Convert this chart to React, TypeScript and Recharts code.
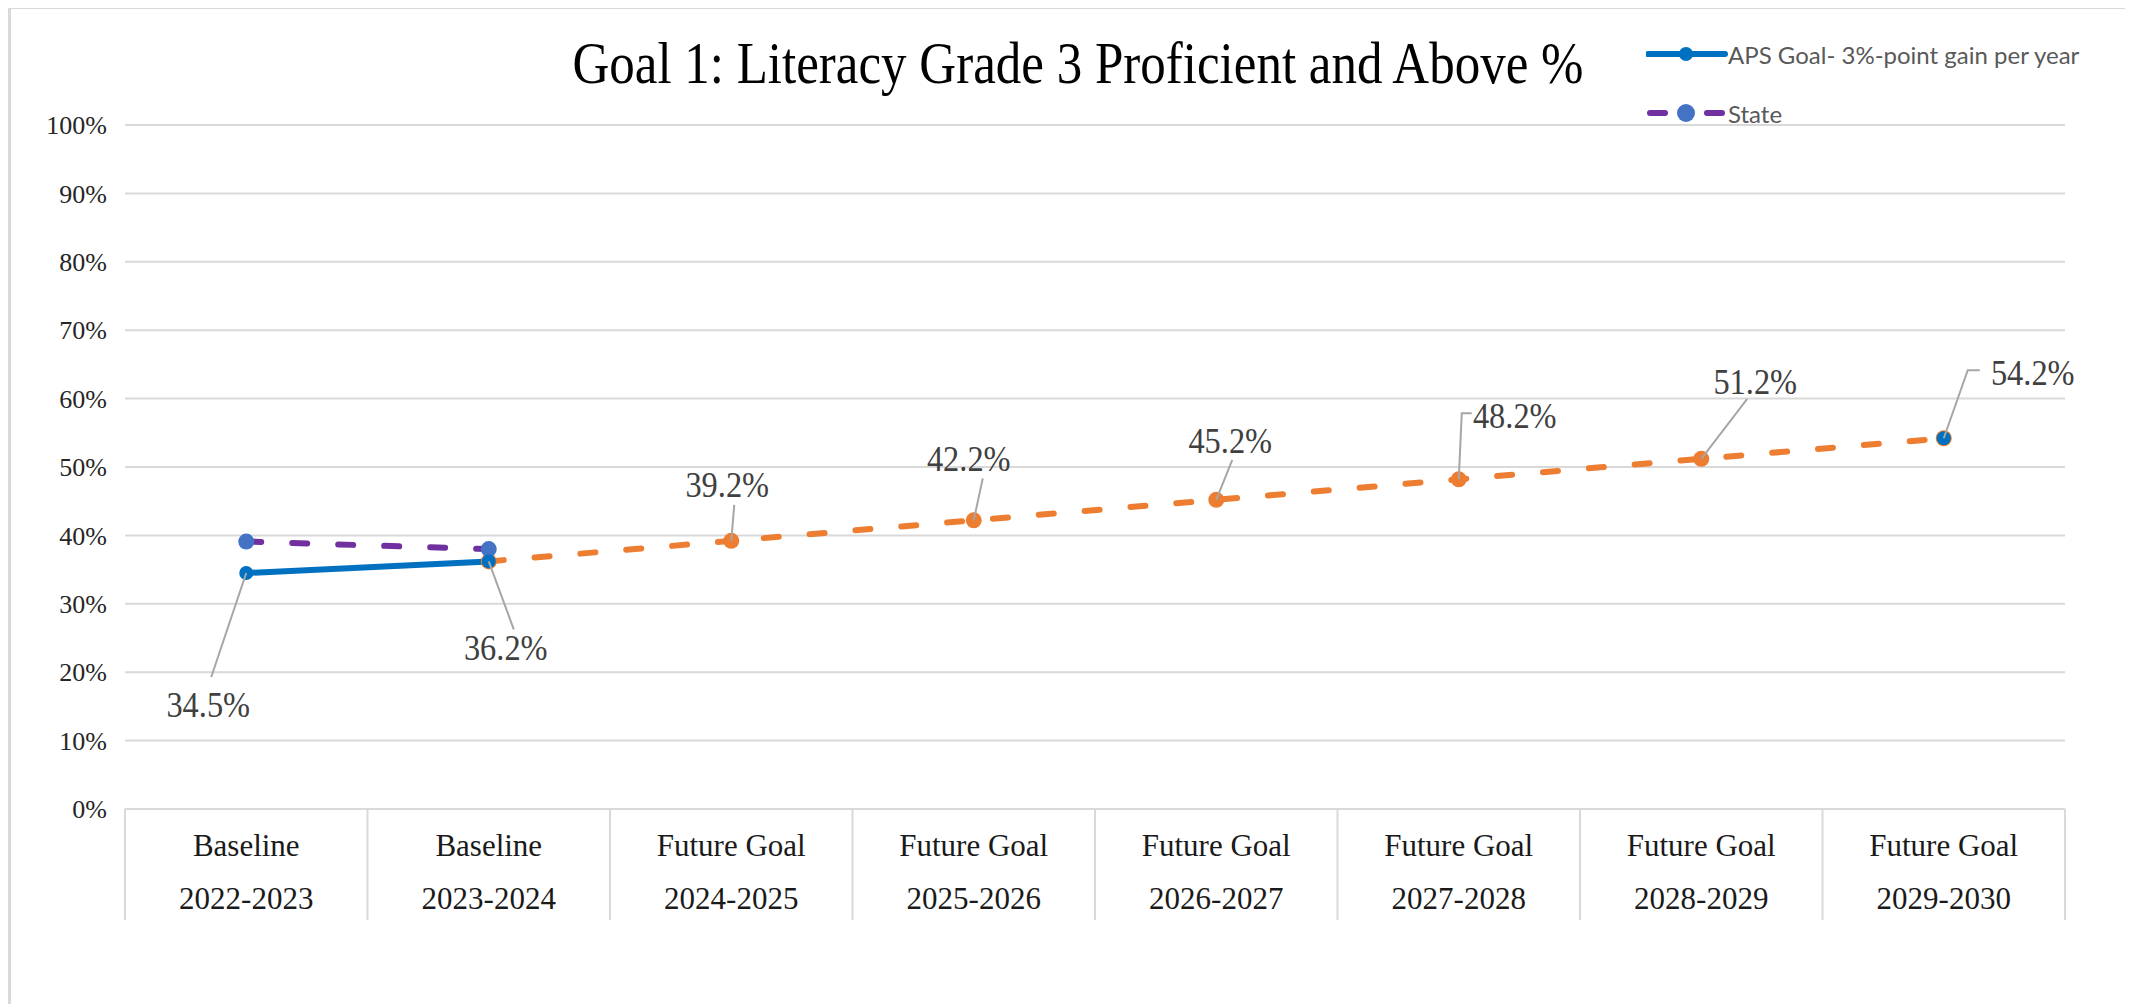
import {
  CartesianGrid,
  LabelList,
  Line,
  LineChart,
  XAxis,
  YAxis,
} from "recharts";

// ---- data ----
const phases = [
  "Baseline",
  "Baseline",
  "Future Goal",
  "Future Goal",
  "Future Goal",
  "Future Goal",
  "Future Goal",
  "Future Goal",
];
const years = [
  "2022-2023",
  "2023-2024",
  "2024-2025",
  "2025-2026",
  "2026-2027",
  "2027-2028",
  "2028-2029",
  "2029-2030",
];
const apsValues = [34.5, 36.2, null, null, null, null, null, 54.2];
const goalValues = [null, 36.2, 39.2, 42.2, 45.2, 48.2, 51.2, 54.2];
const stateValues = [39.1, 38.0, null, null, null, null, null, null];
const yTicks = [0, 10, 20, 30, 40, 50, 60, 70, 80, 90, 100];

const APS_NAME = "APS Goal- 3%-point gain per year";
const STATE_NAME = "State";
const TITLE = "Goal 1: Literacy Grade 3 Proficient and Above %";

const data = years.map((y, i) => ({
  key: `${phases[i]}|${y}`,
  phase: phases[i],
  year: y,
  aps: apsValues[i],
  goal: goalValues[i],
  state: stateValues[i],
}));

// ---- layout / style ----
const W = 2125;
const H = 998;
const PLOT_LEFT = 117;
const PLOT_RIGHT = 2057;
const PLOT_TOP = 117;
const PLOT_BOTTOM = 801;
const X_AXIS_H = 120;
const Y_AXIS_W = 100;
const BAND = (PLOT_RIGHT - PLOT_LEFT) / years.length;

const SERIF = '"Liberation Serif", "Times New Roman", serif';
const SANS = 'Lato, "Open Sans", sans-serif';
const GRID = "#D9D9D9";
const BLUE = "#0070C0";
const ORANGE = "#ED7D31";
const PURPLE = "#7030A0";
const STATE_DOT = "#4472C4";
const LABEL_INK = "#404040";
const LEADER = "#A6A6A6";

// label centre offset from its point, plus leader-line path (relative to point)
const labelPos: Record<number, { dx: number; dy: number; leader: [number, number][] }> = {
  0: { dx: -38, dy: 132, leader: [[0, 0], [-35, 104]] },
  1: { dx: 17, dy: 86, leader: [[0, 0], [25, 68]] },
  2: { dx: -4, dy: -56, leader: [[0, 0], [3, -36]] },
  3: { dx: -5, dy: -62, leader: [[0, 0], [9, -42]] },
  4: { dx: 14, dy: -59, leader: [[0, 0], [16, -40]] },
  5: { dx: 56, dy: -64, leader: [[0, 0], [3, -66], [13, -66]] },
  6: { dx: 54, dy: -77, leader: [[0, 0], [46, -60]] },
  7: { dx: 89, dy: -66, leader: [[0, 0], [24, -68], [36, -68]] },
};

function makeLabel(indices: number[]) {
  return (p: any) => {
    const i = p.index as number;
    if (!indices.includes(i) || p.value == null) return null;
    const pos = labelPos[i];
    const x = Number(p.x);
    const y = Number(p.y);
    const d = pos.leader.map(([lx, ly], k) => `${k ? "L" : "M"}${x + lx},${y + ly}`).join(" ");
    return (
      <g>
        <path d={d} stroke={LEADER} strokeWidth={2} fill="none" />
        <text
          transform={`translate(${x + pos.dx},${y + pos.dy}) scale(0.9,1)`}
          dy="0.34em"
          textAnchor="middle"
          fontFamily={SERIF}
          fontSize={36}
          fill={LABEL_INK}
        >
          {`${Number(p.value).toFixed(1)}%`}
        </text>
      </g>
    );
  };
}

function CategoryTick(props: any) {
  const { x, index } = props;
  const top = PLOT_BOTTOM;
  const bottom = PLOT_BOTTOM + 111;
  const left = x - BAND / 2;
  const right = x + BAND / 2;
  return (
    <g>
      <line x1={left} y1={top} x2={left} y2={bottom} stroke={GRID} strokeWidth={2} />
      {index === years.length - 1 && (
        <line x1={right} y1={top} x2={right} y2={bottom} stroke={GRID} strokeWidth={2} />
      )}
      <text x={x} y={top + 47} textAnchor="middle" fontFamily={SERIF} fontSize={31} fill="#1a1a1a">
        {phases[index]}
      </text>
      <text x={x} y={top + 100} textAnchor="middle" fontFamily={SERIF} fontSize={31} fill="#1a1a1a">
        {years[index]}
      </text>
    </g>
  );
}

function ChartLegend() {
  return (
    <div
      style={{
        position: "absolute",
        top: 30,
        left: 1635,
        fontFamily: SANS,
        fontSize: 24,
        color: "#595959",
        whiteSpace: "nowrap",
      }}
    >
      <div style={{ display: "flex", alignItems: "center", height: 30 }}>
        <svg width={82} height={20}>
          <line x1={2} y1={10} x2={79} y2={10} stroke={BLUE} strokeWidth={6} strokeLinecap="round" />
          <circle cx={40} cy={10} r={7} fill={BLUE} />
        </svg>
        <span>{APS_NAME}</span>
      </div>
      <div style={{ display: "flex", alignItems: "center", height: 30, marginTop: 29 }}>
        <svg width={82} height={20}>
          <line x1={4} y1={10} x2={19} y2={10} stroke={PURPLE} strokeWidth={6} strokeLinecap="round" />
          <line x1={61} y1={10} x2={76} y2={10} stroke={PURPLE} strokeWidth={6} strokeLinecap="round" />
          <circle cx={40} cy={10} r={9} fill={STATE_DOT} />
        </svg>
        <span>{STATE_NAME}</span>
      </div>
    </div>
  );
}

export default function App() {
  return (
    <div
      style={{
        position: "relative",
        width: W,
        height: H,
        marginTop: -2,
        borderLeft: `3px solid ${GRID}`,
        borderTop: `3px solid ${GRID}`,
        boxSizing: "border-box",
        background: "#fff",
      }}
    >
      <div
        style={{
          position: "absolute",
          top: 24,
          left: 367,
          width: 1400,
          textAlign: "center",
          fontFamily: SERIF,
          fontSize: 60,
          lineHeight: "60px",
          color: "#000",
          whiteSpace: "nowrap",
          transform: "scaleX(0.85)",
          transformOrigin: "center",
        }}
      >
        {TITLE}
      </div>
      <ChartLegend />
      <div style={{ position: "absolute", top: -1, left: -3 }}>
        <LineChart
          width={W}
          height={H}
          data={data}
          margin={{
            top: PLOT_TOP,
            right: W - PLOT_RIGHT,
            bottom: H - PLOT_BOTTOM - X_AXIS_H,
            left: PLOT_LEFT - Y_AXIS_W,
          }}
        >
          <CartesianGrid vertical={false} stroke={GRID} strokeWidth={2} />
          <XAxis
            dataKey="key"
            interval={0}
            height={X_AXIS_H}
            padding={{ left: BAND / 2, right: BAND / 2 }}
            tickLine={false}
            tickSize={0}
            tickMargin={0}
            axisLine={{ stroke: GRID, strokeWidth: 2 }}
            tick={<CategoryTick />}
          />
          <YAxis
            domain={[0, 100]}
            ticks={yTicks}
            width={Y_AXIS_W}
            axisLine={false}
            tickLine={false}
            tickMargin={12}
            tickFormatter={(v) => `${v}%`}
            tick={{ fontFamily: SERIF, fontSize: 26, fill: "#262626" }}
          />
          <Line
            dataKey="goal"
            name="Goal"
            stroke={ORANGE}
            strokeWidth={6}
            strokeDasharray="15 31"
            strokeLinecap="round"
            dot={{ r: 8, fill: ORANGE, stroke: ORANGE, strokeWidth: 0 }}
            isAnimationActive={false}
          >
            <LabelList dataKey="goal" content={makeLabel([2, 3, 4, 5, 6, 7])} />
          </Line>
          <Line
            dataKey="state"
            name={STATE_NAME}
            stroke={PURPLE}
            strokeWidth={6}
            strokeDasharray="15 31"
            strokeLinecap="round"
            dot={{ r: 8, fill: STATE_DOT, stroke: STATE_DOT, strokeWidth: 0 }}
            isAnimationActive={false}
          />
          <Line
            dataKey="aps"
            name={APS_NAME}
            stroke={BLUE}
            strokeWidth={6}
            dot={{ r: 7, fill: BLUE, stroke: BLUE, strokeWidth: 0 }}
            isAnimationActive={false}
          >
            <LabelList dataKey="aps" content={makeLabel([0, 1])} />
          </Line>
        </LineChart>
      </div>
    </div>
  );
}
